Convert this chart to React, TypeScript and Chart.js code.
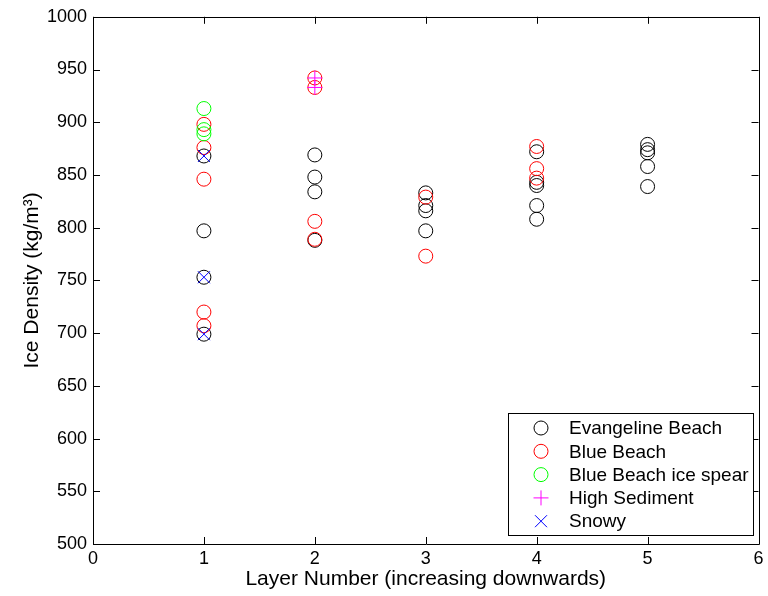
import React, { useEffect, useRef } from "react";
import { Chart, registerables } from "chart.js";

Chart.register(...registerables);

// ---- Data ----
const evangelineX = [1, 1, 1, 1, 2, 2, 2, 2, 3, 3, 3, 3, 4, 4, 4, 4, 4, 5, 5, 5, 5, 5];
const evangelineY = [868, 797, 753, 699, 869, 848, 834, 788, 833, 821, 816, 797, 872, 843, 840, 821, 808, 879, 874, 871, 858, 839];

const blueBeachX = [1, 1, 1, 1, 1, 2, 2, 2, 2, 3, 3, 4, 4, 4];
const blueBeachY = [898, 876, 846, 720, 707, 942, 933, 806, 789, 829, 773, 877, 856, 847];

const iceSpearX = [1, 1, 1];
const iceSpearY = [913, 893, 889];

const highSedimentX = [2, 2];
const highSedimentY = [942, 933];

const snowyX = [1, 1, 1];
const snowyY = [868, 753, 699];

const seriesNames = ["Evangeline Beach", "Blue Beach", "Blue Beach ice spear", "High Sediment", "Snowy"];
const seriesColors = ["#000000", "#ff0000", "#00ff00", "#ff00ff", "#0000ff"];
const seriesMarkers = ["circle", "circle", "circle", "cross", "crossRot"];

const xTicks = [0, 1, 2, 3, 4, 5, 6];
const yTicks = [500, 550, 600, 650, 700, 750, 800, 850, 900, 950, 1000];

const FONT = "'Liberation Sans', Arial, Helvetica, sans-serif";

function toPoints(xs: number[], ys: number[]) {
  return xs.map((x, i) => ({ x, y: ys[i] }));
}

function drawMarker(ctx: CanvasRenderingContext2D, style: string, x: number, y: number, color: string) {
  ctx.save();
  ctx.strokeStyle = color;
  ctx.lineWidth = 1;
  ctx.beginPath();
  if (style === "circle") {
    ctx.arc(x, y, 7, 0, Math.PI * 2);
  } else if (style === "cross") {
    ctx.moveTo(x - 7.5, y);
    ctx.lineTo(x + 7.5, y);
    ctx.moveTo(x, y - 7.5);
    ctx.lineTo(x, y + 7.5);
  } else {
    const d = 6;
    ctx.moveTo(x - d, y - d);
    ctx.lineTo(x + d, y + d);
    ctx.moveTo(x + d, y - d);
    ctx.lineTo(x - d, y + d);
  }
  ctx.stroke();
  ctx.restore();
}

const framePlugin = {
  id: "matlabFrame",
  afterDraw(chart: any) {
    const { ctx, chartArea } = chart;
    const { left, right, top, bottom } = chartArea;
    const xs = chart.scales.x;
    const ys = chart.scales.y;
    const tl = 7;
    ctx.save();
    ctx.strokeStyle = "#000";
    ctx.lineWidth = 1;
    ctx.beginPath();
    ctx.rect(Math.round(left) + 0.5, Math.round(top) + 0.5, Math.round(right - left), Math.round(bottom - top));
    // inward ticks
    xTicks.forEach((v) => {
      const px = Math.round(xs.getPixelForValue(v)) + 0.5;
      ctx.moveTo(px, bottom);
      ctx.lineTo(px, bottom - tl);
      ctx.moveTo(px, top);
      ctx.lineTo(px, top + tl);
    });
    yTicks.forEach((v) => {
      const py = Math.round(ys.getPixelForValue(v)) + 0.5;
      ctx.moveTo(left, py);
      ctx.lineTo(left + tl, py);
      ctx.moveTo(right, py);
      ctx.lineTo(right - tl, py);
    });
    ctx.stroke();

    // legend
    const lx = 508.5, ly = 413.5, lw = 245, lh = 122;
    ctx.fillStyle = "#ffffff";
    ctx.fillRect(lx, ly, lw, lh);
    ctx.strokeRect(lx, ly, lw, lh);
    ctx.font = `19px ${FONT}`;
    ctx.textBaseline = "middle";
    ctx.textAlign = "left";
    ctx.fillStyle = "#000";
    seriesNames.forEach((name, i) => {
      const y = 428 + i * 23.3;
      drawMarker(ctx, seriesMarkers[i], 541, y, seriesColors[i]);
      ctx.fillStyle = "#000";
      ctx.fillText(name, 569, y + 1);
    });
    ctx.restore();
  },
};

export default function App() {
  const canvasRef = useRef<HTMLCanvasElement | null>(null);

  useEffect(() => {
    if (!canvasRef.current) return;
    const dsBase = (i: number, data: any[], order: number, radius: number) => ({
      label: seriesNames[i],
      data,
      showLine: false,
      pointStyle: seriesMarkers[i] as any,
      pointRadius: radius,
      pointHoverRadius: radius,
      pointBorderWidth: 1,
      pointBorderColor: seriesColors[i],
      pointBackgroundColor: "rgba(0,0,0,0)",
      borderColor: seriesColors[i],
      backgroundColor: "rgba(0,0,0,0)",
      order,
    });
    const chart = new Chart(canvasRef.current, {
      type: "scatter",
      data: {
        datasets: [
          dsBase(0, toPoints(evangelineX, evangelineY), 5, 7),
          dsBase(1, toPoints(blueBeachX, blueBeachY), 4, 7),
          dsBase(2, toPoints(iceSpearX, iceSpearY), 3, 7),
          dsBase(3, toPoints(highSedimentX, highSedimentY), 2, 7.5),
          dsBase(4, toPoints(snowyX, snowyY), 1, 8.5),
        ],
      },
      options: {
        responsive: false,
        animation: false,
        events: [],
        layout: { padding: { top: 16, right: 8, left: 0, bottom: 0 } },
        plugins: {
          legend: { display: false },
          tooltip: { enabled: false },
        },
        scales: {
          x: {
            type: "linear",
            min: 0,
            max: 6,
            afterBuildTicks: (scale: any) => {
              scale.ticks = xTicks.map((v) => ({ value: v }));
            },
            afterFit: (scale: any) => {
              scale.height = 52;
            },
            ticks: {
              color: "#000",
              font: { family: FONT, size: 18 },
              padding: 4,
              maxRotation: 0,
              callback: (v: any) => String(v),
            },
            grid: { display: false, drawTicks: false },
            border: { display: false },
            title: {
              display: true,
              text: "Layer Number (increasing downwards)",
              color: "#000",
              font: { family: FONT, size: 21 },
              padding: { top: 0, bottom: 4 },
            },
          },
          y: {
            type: "linear",
            min: 500,
            max: 1000,
            afterBuildTicks: (scale: any) => {
              scale.ticks = yTicks.map((v) => ({ value: v }));
            },
            afterFit: (scale: any) => {
              scale.width = 93;
            },
            ticks: {
              color: "#000",
              font: { family: FONT, size: 18 },
              padding: 6,
              callback: (v: any) => String(v),
            },
            grid: { display: false, drawTicks: false },
            border: { display: false },
            title: {
              display: true,
              text: "Ice Density (kg/m³)",
              color: "#000",
              font: { family: FONT, size: 21 },
              padding: { top: 20, bottom: 0 },
            },
          },
        },
      },
      plugins: [framePlugin],
    } as any);
    return () => chart.destroy();
  }, []);

  return (
    <div style={{ position: "fixed", left: 0, top: 0, width: 768, height: 596, background: "#fff" }}>
      <canvas ref={canvasRef} width={768} height={596} style={{ display: "block" }} />
    </div>
  );
}
